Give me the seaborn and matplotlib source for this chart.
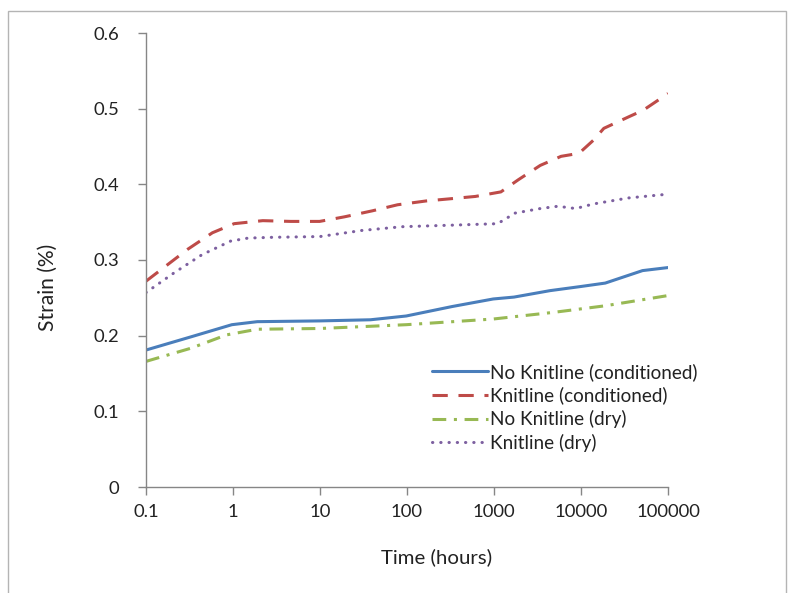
import numpy as np
import pandas as pd
import matplotlib
matplotlib.use("Agg")
import matplotlib.pyplot as plt
import seaborn as sns
from matplotlib.patches import Rectangle

# ---- data ----
red_x = [0.1, 0.30, 0.58, 1.03, 2.2, 4.6, 9.9, 19, 40, 78, 165, 320, 610, 1200, 1900, 3400, 5900, 9500, 13800, 18300, 35000, 52000, 100000]
red_y = [0.272, 0.314, 0.336, 0.348, 0.352, 0.351, 0.351, 0.357, 0.365, 0.373, 0.378, 0.381, 0.384, 0.390, 0.406, 0.425, 0.437, 0.441, 0.458, 0.474, 0.489, 0.498, 0.520]

pur_x = [0.1, 0.21, 0.44, 0.94, 1.5, 2.9, 10, 30, 88, 320, 1100, 1750, 3400, 5400, 8700, 13800, 22000, 35000, 100000]
pur_y = [0.257, 0.283, 0.307, 0.325, 0.329, 0.330, 0.331, 0.339, 0.344, 0.346, 0.348, 0.362, 0.368, 0.371, 0.368, 0.374, 0.378, 0.382, 0.387]

blu_x = [0.1, 0.33, 0.97, 1.9, 9.8, 38, 98, 330, 980, 1700, 4400, 10000, 19000, 51000, 100000]
blu_y = [0.181, 0.1985, 0.2145, 0.2185, 0.2195, 0.221, 0.226, 0.2385, 0.2485, 0.251, 0.2595, 0.265, 0.2695, 0.286, 0.290]

grn_x = [0.1, 0.33, 0.84, 1.9, 10, 98, 980, 5000, 19000, 100000]
grn_y = [0.166, 0.1835, 0.201, 0.2085, 0.2095, 0.2145, 0.222, 0.231, 0.2395, 0.253]

x_ticks = [0.1, 1, 10, 100, 1000, 10000, 100000]
x_tick_labels = ["0.1", "1", "10", "100", "1000", "10000", "100000"]
y_ticks = [0, 0.1, 0.2, 0.3, 0.4, 0.5, 0.6]
y_tick_labels = ["0", "0.1", "0.2", "0.3", "0.4", "0.5", "0.6"]

sns.set_theme(style="white")
plt.rcParams["font.family"] = ["Lato", "DejaVu Sans"]

fig = plt.figure(figsize=(8.07, 5.93), dpi=100)
ax = fig.add_axes([146 / 807, 1 - 487 / 593, 522 / 807, 454 / 593])

# outer chart frame
fig.patches.append(Rectangle((8 / 807, -0.05), (786 - 8) / 807, 1.05 - 11 / 593,
                             transform=fig.transFigure, fill=False,
                             edgecolor="#B4B4B4", linewidth=1.0))

lw = 2.2
series = [
    ("No Knitline (conditioned)", blu_x, blu_y, "#4A7EBB", None),
    ("Knitline (conditioned)", red_x, red_y, "#BE4B48", (5, 3.5)),
    ("No Knitline (dry)", grn_x, grn_y, "#98B954", (4.5, 2.5, 1, 2.5)),
    ("Knitline (dry)", pur_x, pur_y, "#7D60A0", (0.1, 2.6)),
]
for name, xs, ys, col, dash in series:
    df = pd.DataFrame({"Time": xs, "Strain": ys})
    sns.lineplot(data=df, x="Time", y="Strain", ax=ax, color=col, linewidth=lw, label=name)
    line = ax.get_lines()[-1]
    if dash is not None:
        line.set_dashes(dash)
    if name == "Knitline (dry)":
        line.set_dash_capstyle("round")

ax.set_xscale("log")
ax.set_xlim(0.1, 100000)
ax.set_ylim(0, 0.6)
ax.set_xticks(x_ticks)
ax.set_xticklabels(x_tick_labels)
ax.set_yticks(y_ticks)
ax.set_yticklabels(y_tick_labels)
ax.xaxis.set_minor_locator(matplotlib.ticker.NullLocator())

for s in ["top", "right"]:
    ax.spines[s].set_visible(False)
for s in ["left", "bottom"]:
    ax.spines[s].set_color("#868686")
    ax.spines[s].set_linewidth(1.0)

ax.tick_params(axis="both", which="major", direction="out", length=6, width=1,
               color="#868686", labelsize=13.3, labelcolor="#222222", bottom=True, left=True)
ax.tick_params(axis="x", pad=6)
ax.tick_params(axis="y", pad=13)

ax.set_xlabel("Time (hours)", fontsize=14.5, color="#222222")
ax.set_ylabel("Strain (%)", fontsize=13, color="#222222")
ax.xaxis.set_label_coords(0.557, -0.134)
ax.yaxis.set_label_coords(-0.169, 0.44)

# size texts so their lengths match the reference (in pixels)
fig.canvas.draw()
r = fig.canvas.get_renderer()
def fit(txt, target, horizontal=True):
    bb = txt.get_window_extent(r)
    cur = bb.width if horizontal else bb.height
    if cur > 0:
        txt.set_fontsize(txt.get_fontsize() * target / cur)
    return txt.get_fontsize()

fit(ax.xaxis.label, 111)
fit(ax.yaxis.label, 87, horizontal=False)
tick_fs = fit(ax.get_xticklabels()[-1], 64)
ax.tick_params(labelsize=tick_fs)

# legend font sized from a probe text
probe = fig.text(0, 0, "No Knitline (conditioned)", fontsize=14)
leg_fs = fit(probe, 208)
probe.remove()

leg = ax.legend(loc="upper left", bbox_to_anchor=(0.548, 0.273), frameon=False,
                fontsize=leg_fs, handlelength=56 / (leg_fs * 100 / 72),
                handletextpad=0.12, labelspacing=0.3,
                borderpad=0, borderaxespad=0)
for t in leg.get_texts():
    t.set_color("#222222")

fig.savefig("out.png", dpi=100)
